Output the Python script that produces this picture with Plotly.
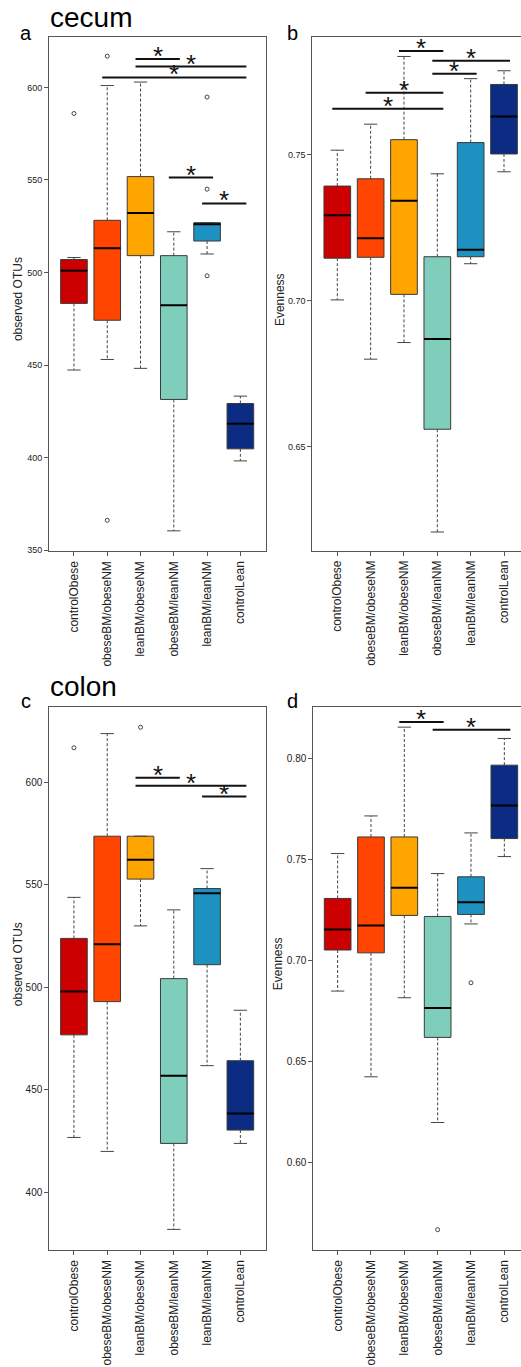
import plotly.graph_objects as go

categories = ["controlObese", "obeseBM/obeseNM", "leanBM/obeseNM",
              "obeseBM/leanNM", "leanBM/leanNM", "controlLean"]
colors = ["#CC0000", "#FF4500", "#FFA500", "#7FCDBB", "#1D91C0", "#0C2C84"]

# ---- panel a: cecum, observed OTUs
a_low = [447.3, 453.0, 448.2, 360.4, 510.0, 398.2]
a_q1 = [483.3, 474.2, 509.1, 431.4, 517.0, 404.7]
a_med = [501.0, 513.1, 532.1, 482.3, 526.0, 418.3]
a_q3 = [507.0, 528.2, 551.8, 509.1, 526.9, 429.2]
a_high = [508.1, 601.0, 602.9, 522.0, 526.9, 433.2]
a_out = [[585.9], [616.9, 366.1], [], [], [594.8, 545.0, 498.2], []]
a_sig = [(2, 3, 615.4), (2, 5, 611.3), (1, 5, 605.4), (3, 4, 551.3), (4, 5, 537.3)]
a_ticks = [350, 400, 450, 500, 550, 600]

# ---- panel b: cecum, evenness
b_low = [0.7002, 0.6799, 0.6856, 0.6207, 0.7126, 0.7441]
b_q1 = [0.7145, 0.7148, 0.7021, 0.6559, 0.7150, 0.7502]
b_med = [0.7292, 0.7213, 0.7342, 0.6868, 0.7174, 0.7630]
b_q3 = [0.7392, 0.7417, 0.7551, 0.7150, 0.7541, 0.7740]
b_high = [0.7515, 0.7604, 0.7836, 0.7434, 0.7760, 0.7787]
b_out = [[], [], [], [], [], []]
b_sig = [(2, 3, 0.7855), (3, 5, 0.7821), (3, 4, 0.7777), (1, 3, 0.7712), (0, 3, 0.7657)]
b_ticks = [0.65, 0.70, 0.75]

# ---- panel c: colon, observed OTUs
c_low = [426.8, 420.0, 529.9, 382.0, 461.8, 423.9]
c_q1 = [476.8, 493.0, 552.7, 423.9, 511.0, 430.4]
c_med = [497.9, 520.9, 562.1, 456.9, 545.8, 438.5]
c_q3 = [523.8, 573.6, 573.6, 504.2, 548.1, 464.2]
c_high = [543.8, 623.6, 573.6, 537.7, 557.8, 488.8]
c_out = [[616.7], [], [626.7], [], [], []]
c_sig = [(2, 3, 602.1), (2, 5, 598.2), (4, 5, 592.9)]
c_ticks = [400, 450, 500, 550, 600]

# ---- panel d: colon, evenness
d_low = [0.6848, 0.6424, 0.6815, 0.6198, 0.7180, 0.7513]
d_q1 = [0.7051, 0.7037, 0.7222, 0.6619, 0.7227, 0.7602]
d_med = [0.7152, 0.7172, 0.7359, 0.6764, 0.7287, 0.7765]
d_q3 = [0.7306, 0.7610, 0.7610, 0.7217, 0.7413, 0.7965]
d_high = [0.7528, 0.7714, 0.8153, 0.7429, 0.7630, 0.8097]
d_out = [[], [], [], [0.5668], [0.6889], []]
d_sig = [(2, 3, 0.8179), (3, 5, 0.8140)]
d_ticks = [0.60, 0.65, 0.70, 0.75, 0.80]

FONT = "Liberation Sans, Arial, sans-serif"
W, H = 521, 1367

fig = go.Figure()


def add_panel(k, low, q1, med, q3, high, outliers, sig):
    xa = "x" if k == 1 else f"x{k}"
    ya = "y" if k == 1 else f"y{k}"
    idx = list(range(len(categories)))
    # boxes
    fig.add_trace(go.Bar(
        x=idx, base=q1, y=[b - a for a, b in zip(q1, q3)], width=0.8,
        marker=dict(color=colors, line=dict(color="#3a3a3a", width=1)),
        xaxis=xa, yaxis=ya, showlegend=False, hoverinfo="skip"))
    # dashed whiskers
    wx, wy = [], []
    for i in idx:
        wx += [i, i, None, i, i, None]
        wy += [q3[i], high[i], None, q1[i], low[i], None]
    fig.add_trace(go.Scatter(x=wx, y=wy, mode="lines",
                             line=dict(color="#444444", width=1, dash="3px,2px"),
                             xaxis=xa, yaxis=ya, showlegend=False, hoverinfo="skip"))
    # whisker caps
    cx, cy = [], []
    for i in idx:
        cx += [i - 0.2, i + 0.2, None, i - 0.2, i + 0.2, None]
        cy += [high[i], high[i], None, low[i], low[i], None]
    fig.add_trace(go.Scatter(x=cx, y=cy, mode="lines",
                             line=dict(color="#444444", width=1),
                             xaxis=xa, yaxis=ya, showlegend=False, hoverinfo="skip"))
    # medians
    mx, my = [], []
    for i in idx:
        mx += [i - 0.4, i + 0.4, None]
        my += [med[i], med[i], None]
    fig.add_trace(go.Scatter(x=mx, y=my, mode="lines",
                             line=dict(color="#000000", width=2),
                             xaxis=xa, yaxis=ya, showlegend=False, hoverinfo="skip"))
    # outliers
    ox, oy = [], []
    for i in idx:
        for v in outliers[i]:
            ox.append(i)
            oy.append(v)
    if ox:
        fig.add_trace(go.Scatter(x=ox, y=oy, mode="markers",
                                 marker=dict(symbol="circle-open", size=4,
                                             color="#444444", line=dict(width=1)),
                                 xaxis=xa, yaxis=ya, showlegend=False, hoverinfo="skip"))
    # significance bars
    sx, sy = [], []
    for (i, j, h) in sig:
        x0, x1 = i - 0.15, j + 0.18
        sx += [x0, x1, None]
        sy += [h, h, None]
        fig.add_annotation(x=(x0 + x1) / 2, y=h, xref=xa, yref=ya, text="*",
                           showarrow=False, yanchor="bottom", yshift=-14,
                           font=dict(family=FONT, size=26, color="#111111"))
    fig.add_trace(go.Scatter(x=sx, y=sy, mode="lines",
                             line=dict(color="#111111", width=2),
                             xaxis=xa, yaxis=ya, showlegend=False, hoverinfo="skip"))


add_panel(1, a_low, a_q1, a_med, a_q3, a_high, a_out, a_sig)
add_panel(2, b_low, b_q1, b_med, b_q3, b_high, b_out, b_sig)
add_panel(3, c_low, c_q1, c_med, c_q3, c_high, c_out, c_sig)
add_panel(4, d_low, d_q1, d_med, d_q3, d_high, d_out, d_sig)


def xaxis(dom, rng, anchor):
    return dict(domain=dom, range=rng, anchor=anchor, tickmode="array",
                tickvals=list(range(len(categories))), ticktext=categories,
                tickangle=-90, ticks="outside", ticklen=4, tickcolor="#555555",
                showline=True, linecolor="#555555", linewidth=1, mirror=True,
                showgrid=False, zeroline=False,
                tickfont=dict(family=FONT, size=12, color="#222222"))


def yaxis(dom, rng, anchor, ticks, fmt, size, mirror):
    return dict(domain=dom, range=rng, anchor=anchor, tickmode="array",
                tickvals=ticks, ticktext=[fmt.format(t) for t in ticks],
                ticks="outside", ticklen=4, tickcolor="#555555",
                showline=True, linecolor="#555555", linewidth=1, mirror=mirror,
                showgrid=False, zeroline=False,
                tickfont=dict(family=FONT, size=size, color="#222222"))


ya_dom = [1 - 553 / H, 1 - 37 / H]
yb_dom = [1 - 552.3 / H, 1 - 37.3 / H]
yc_dom = [1 - 1254 / H, 1 - 709 / H]

fig.update_layout(
    width=W, height=H, margin=dict(l=0, r=0, t=0, b=0),
    paper_bgcolor="white", plot_bgcolor="white", barmode="overlay",
    font=dict(family=FONT, color="#222222"),
    xaxis=xaxis([49 / W, 266 / W], [-0.75, 5.77], "y"),
    yaxis=yaxis(ya_dom, [349.3, 627.3], "x", a_ticks, "{:.0f}", 9, True),
    xaxis2=xaxis([312.3 / W, 1.0], [-0.75, 5.51], "y2"),
    yaxis2=yaxis(yb_dom, [0.6143, 0.7902], "x2", b_ticks, "{:.2f}", 9, False),
    xaxis3=xaxis([49.3 / W, 266 / W], [-0.74, 5.77], "y3"),
    yaxis3=yaxis(yc_dom, [371.8, 636.6], "x3", c_ticks, "{:.0f}", 10, True),
    xaxis4=xaxis([313.3 / W, 1.0], [-0.73, 5.5], "y4"),
    yaxis4=yaxis(yc_dom, [0.5566, 0.8253], "x4", d_ticks, "{:.2f}", 10, False),
)

# text labels: section titles, panel letters, y-axis titles
labels = [
    ("cecum", 48, 35, 28, "left", 0),
    ("colon", 48, 706, 28, "left", 0),
    ("a", 18, 46, 20, "left", 0),
    ("b", 285, 46, 20, "left", 0),
    ("c", 19, 716, 20, "left", 0),
    ("d", 285, 716, 20, "left", 0),
]
for txt, px, py, size, xa_, ang in labels:
    fig.add_annotation(text=txt, x=px / W, y=1 - py / H, xref="paper", yref="paper",
                       xanchor=xa_, yanchor="bottom", showarrow=False,
                       font=dict(family=FONT, size=size, color="#000000"))

ytitles = [("observed OTUs", 18, 300), ("Evenness", 280, 301),
           ("observed OTUs", 18, 967), ("Evenness", 278, 967)]
for txt, px, py in ytitles:
    fig.add_annotation(text=txt, x=px / W, y=1 - py / H, xref="paper", yref="paper",
                       xanchor="center", yanchor="middle", textangle=-90,
                       showarrow=False,
                       font=dict(family=FONT, size=12, color="#222222"))

fig.write_html("out.html")
